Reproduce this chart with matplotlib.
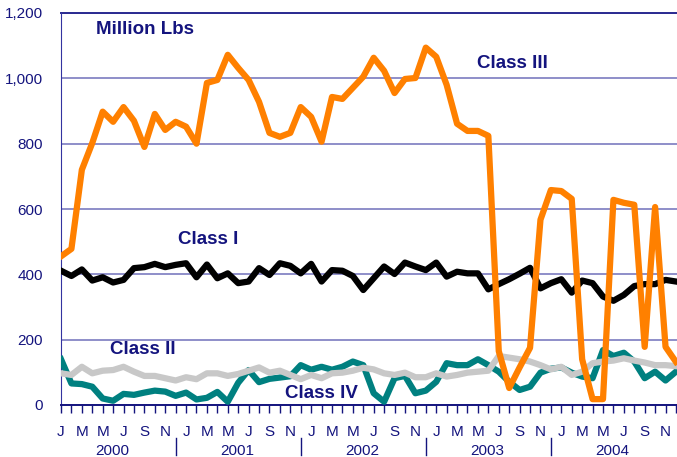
import numpy as np
import matplotlib
matplotlib.use("Agg")
import matplotlib.pyplot as plt

plt.rcParams['font.family'] = ['Liberation Sans', 'DejaVu Sans']

# monthly data, Jan 2000 .. Dec 2004 (million lbs)
class_iii = [455, 478, 720, 802, 898, 867, 912, 870, 790, 891, 842, 867,
             852, 800, 986, 995, 1072, 1032, 995, 928, 833, 821, 833, 912,
             882, 806, 943, 937, 971, 1005, 1063, 1023, 955, 998, 1001, 1094,
             1066, 980, 861, 839, 839, 824, 165, 52, 115, 175, 567, 658,
             655, 631, 140, 18, 18, 628, 619, 613, 178, 606, 178, 132]
class_i = [411, 395, 415, 381, 391, 375, 383, 419, 422, 432, 422, 429,
           434, 391, 430, 388, 403, 373, 378, 419, 398, 434, 426, 403,
           432, 378, 413, 411, 395, 352, 388, 424, 401, 436, 424, 413,
           436, 393, 408, 403, 403, 354, 370, 385, 402, 420, 357, 373,
           385, 344, 381, 373, 332, 319, 337, 364, 370, 370, 383, 378]
class_ii = [97, 92, 117, 97, 105, 107, 117, 102, 89, 89, 82, 75,
            85, 79, 97, 97, 89, 95, 105, 115, 99, 105, 92, 79,
            92, 82, 97, 99, 105, 114, 109, 97, 92, 99, 85, 85,
            97, 87, 92, 99, 102, 105, 150, 145, 140, 133, 122, 109,
            117, 92, 102, 128, 133, 136, 143, 136, 130, 122, 122, 119]
class_iv = [140, 66, 64, 56, 20, 13, 34, 31, 38, 44, 41, 28,
            38, 17, 22, 40, 10, 68, 107, 70, 80, 84, 88, 122,
            108, 117, 108, 117, 133, 122, 36, 10, 82, 89, 36, 44,
            71, 128, 122, 122, 140, 122, 102, 71, 46, 56, 99, 111,
            115, 99, 87, 82, 168, 150, 160, 133, 82, 102, 75, 102]

month_letters = ['J', 'M', 'M', 'J', 'S', 'N']
years = ['2000', '2001', '2002', '2003', '2004']
yticks = [0, 200, 400, 600, 800, 1000, 1200]

navy = '#14147e'
W, H = 677, 457

fig = plt.figure(figsize=(W/100, H/100), dpi=100)
ax = fig.add_axes([61/W, 1-405/H, (677-61)/W, (405-13)/H])

t = np.arange(len(class_iii))
ax.plot(t, class_iv, color='#008080', lw=4.5, zorder=3, solid_joinstyle='round')
ax.plot(t, class_ii, color='#c8c8c8', lw=4.5, zorder=4, solid_joinstyle='round')
ax.plot(t, class_i, color='black', lw=4.5, zorder=5, solid_joinstyle='round')
ax.plot(t, class_iii, color='#ff8000', lw=4.5, zorder=6, solid_joinstyle='round')

ax.set_xlim(0, 59.1)
ax.set_ylim(0, 1200)
ax.set_yticks(yticks)
ax.set_yticklabels([f'{v:,}' for v in yticks], color=navy, fontsize=11)
ax.tick_params(axis='y', length=0, pad=13)
ax.yaxis.grid(True, color='#7070bb', lw=1.1)
ax.set_axisbelow(True)

ax.set_xticks(t)
ax.set_xticklabels([])
ax.tick_params(axis='x', direction='out', length=6, width=1, color=navy)

for s in ['top', 'right']:
    ax.spines[s].set_visible(False)
ax.spines['left'].set_color('#3333a0')
ax.spines['bottom'].set_color(navy)
ax.spines['bottom'].set_linewidth(1.4)
ax.axhline(1200, color='#2a2a90', lw=1.4, clip_on=False)

tr = ax.get_xaxis_transform()
for k in range(0, 60, 2):
    ax.text(k, -0.068, month_letters[(k % 12)//2], transform=tr, ha='center',
            va='center', color=navy, fontsize=11)
for i, yr in enumerate(years):
    ax.text(4.9 + 12*i, -0.118, yr, transform=tr, ha='center', va='center',
            color=navy, fontsize=11)
for i in range(4):
    ax.plot([11 + 12*i]*2, [-0.085, -0.128], transform=tr, color=navy,
            lw=1, clip_on=False)

labels = [('Million Lbs', 96, 30), ('Class III', 477, 64), ('Class I', 178, 240),
          ('Class II', 110, 349), ('Class IV', 285, 393)]
for txt, px, py in labels:
    fig.text(px/W, 1-py/H, txt, ha='left', va='center', color=navy,
             fontsize=13.5, fontweight='bold')

fig.savefig('out.png', dpi=100)
